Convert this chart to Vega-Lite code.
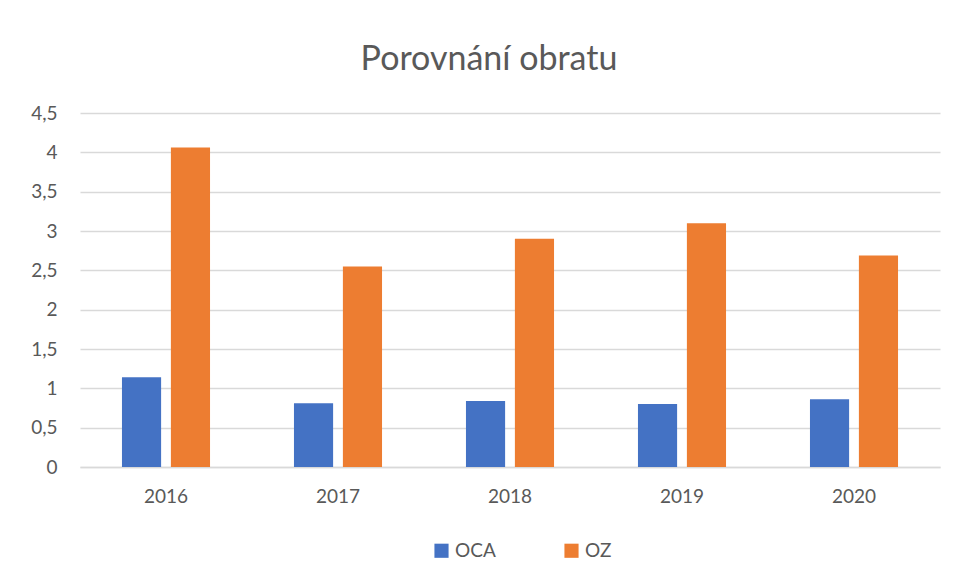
{
  "$schema": "https://vega.github.io/schema/vega-lite/v6.json",
  "autosize": "none",
  "width": 860,
  "height": 354,
  "padding": {"left": 80, "top": 113, "right": 19, "bottom": 116},
  "background": "white",
  "title": {"text": "Porovnání obratu", "font": "Lato", "fontSize": 34, "fontWeight": "normal", "color": "#595959", "anchor": "middle", "offset": 27, "dx": -21},
  "data": {"values": [
    {"rok": "2016", "serie": "OCA", "hodnota": 1.14},
    {"rok": "2016", "serie": "OZ", "hodnota": 4.06},
    {"rok": "2017", "serie": "OCA", "hodnota": 0.81},
    {"rok": "2017", "serie": "OZ", "hodnota": 2.55},
    {"rok": "2018", "serie": "OCA", "hodnota": 0.84},
    {"rok": "2018", "serie": "OZ", "hodnota": 2.90},
    {"rok": "2019", "serie": "OCA", "hodnota": 0.80},
    {"rok": "2019", "serie": "OZ", "hodnota": 3.10},
    {"rok": "2020", "serie": "OCA", "hodnota": 0.86},
    {"rok": "2020", "serie": "OZ", "hodnota": 2.69}
  ]},
  "mark": {"type": "bar"},
  "encoding": {
    "x": {"field": "rok", "type": "nominal", "title": null,
      "scale": {"paddingInner": 0.488, "paddingOuter": 0.244},
      "axis": {"labelAngle": 0, "labelFont": "Lato", "labelFontSize": 19, "labelColor": "#595959", "ticks": false, "domain": true, "domainColor": "#d9d9d9", "domainWidth": 1.5, "labelPadding": 20}},
    "xOffset": {"field": "serie", "type": "nominal", "scale": {"paddingInner": 0.2, "paddingOuter": 0}},
    "y": {"field": "hodnota", "type": "quantitative", "title": null,
      "scale": {"domain": [0, 4.5], "nice": false},
      "axis": {"values": [0, 0.5, 1, 1.5, 2, 2.5, 3, 3.5, 4, 4.5], "format": ".1~f", "labelExpr": "replace(datum.label, '.', ',')", "labelFont": "Lato", "labelFontSize": 19, "labelColor": "#595959", "ticks": false, "domain": false, "gridColor": "#d9d9d9", "gridWidth": 1.5, "labelPadding": 23}},
    "color": {"field": "serie", "type": "nominal", "title": null,
      "scale": {"domain": ["OCA", "OZ"], "range": ["#4472C4", "#ED7D31"]},
      "legend": {"orient": "none", "legendX": 352, "legendY": 428, "direction": "horizontal", "symbolType": "square", "symbolSize": 200, "symbolStrokeWidth": 0, "labelFont": "Lato", "labelFontSize": 19, "labelColor": "#595959", "columnPadding": 66}}
  },
  "config": {"view": {"stroke": null}}
}
